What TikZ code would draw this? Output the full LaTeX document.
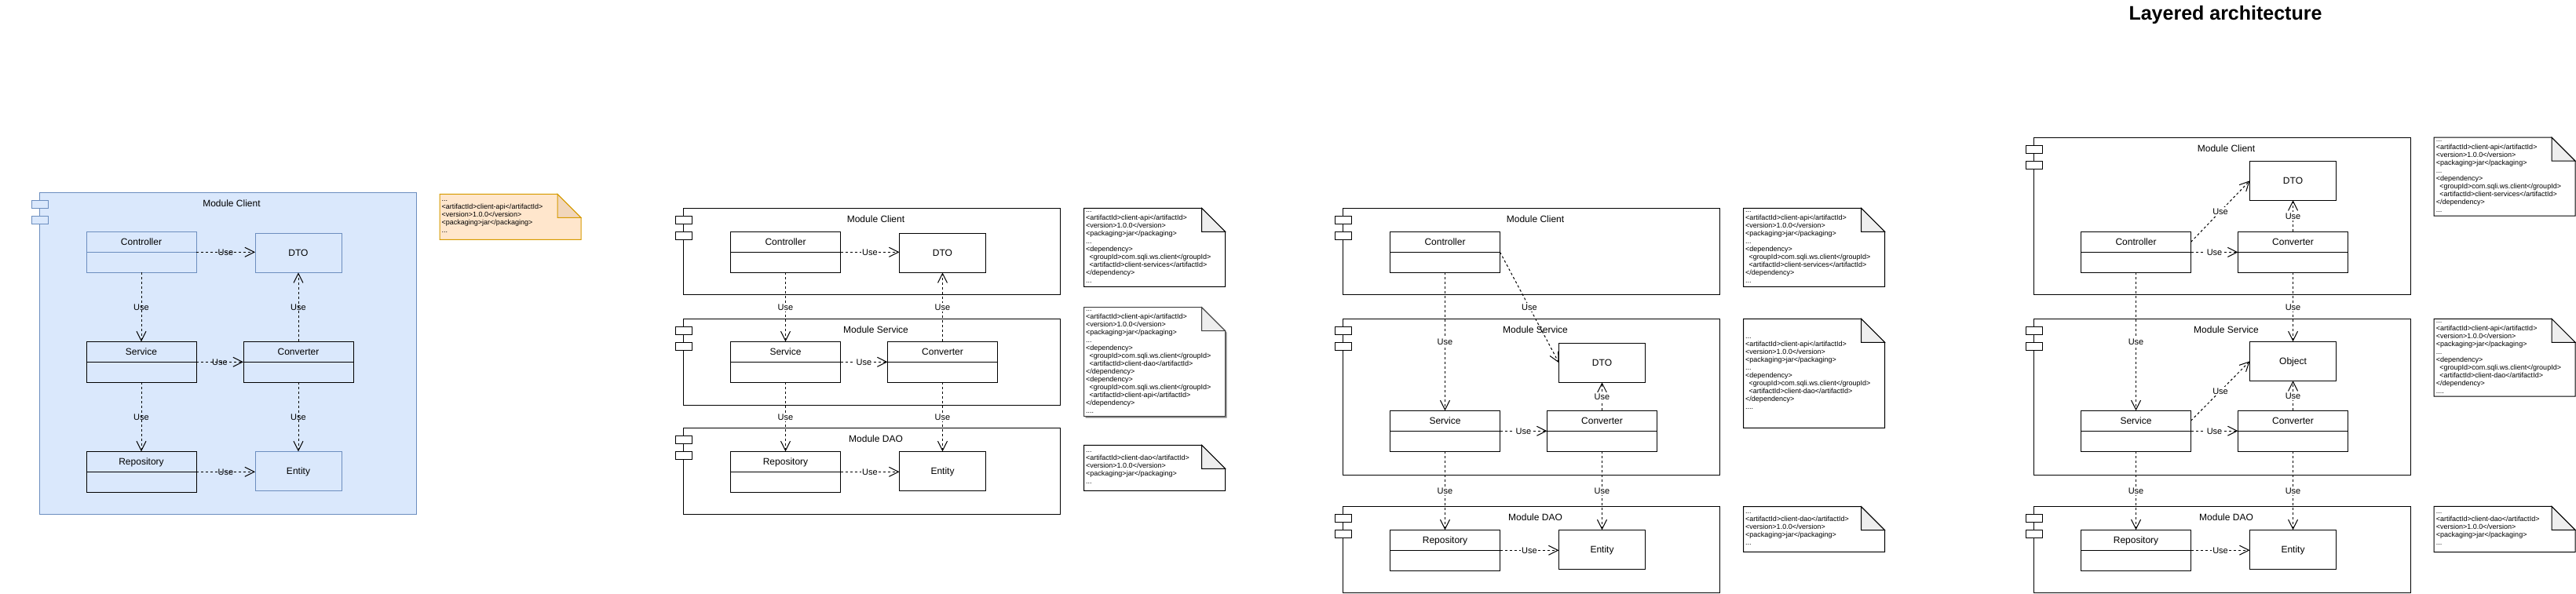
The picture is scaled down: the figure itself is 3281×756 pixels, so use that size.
\documentclass[tikz,border=0pt]{standalone}
\usepackage{fontspec}
\setmainfont{Liberation Sans}
\usetikzlibrary{arrows.meta}
\definecolor{bfill}{HTML}{DAE8FC}
\definecolor{bstroke}{HTML}{6C8EBF}
\definecolor{ofill}{HTML}{FFE6CC}
\definecolor{ostroke}{HTML}{D79B00}
\definecolor{ofold}{RGB}{241,214,187}
\definecolor{gfold}{RGB}{238,238,238}
\newcommand\ind{\hspace*{4.5pt}}
\newcommand\mymod[7]{%
 \node[modbox, draw=#6, fill=#7, minimum height=#4pt] (#1) at (#2,#3) {};
 \node[modtitle] (#1t) at ([xshift=5pt,yshift=-13.5pt]#1.north) {#5};
 \node[iconbox, draw=#6, fill=#7] (#1a) at ([xshift=-10pt,yshift=-10pt]#1.north west) {};
 \node[iconbox, draw=#6, fill=#7] (#1b) at ([xshift=-10pt,yshift=-30pt]#1.north west) {};
}
\newcommand\mycls[6]{%
 \node[clsbox, draw=#5, fill=#6] (#1) at (#2,#3) {};
 \node[clsname] (#1n) at ([yshift=13pt]#1.center) {#4};
 \draw[line width=1pt, draw=#5] (#1.west) -- (#1.east);
}
\newcommand\mynote[9]{%
 \draw[line width=1pt, draw=#6, fill=#7] (#2,#3) -- (#4-30,#3) -- (#4,#3+30) -- (#4,#5) -- (#2,#5) -- cycle;
 \draw[line width=1pt, draw=#6, fill=#8] (#4-30,#3) -- (#4-30,#3+30) -- (#4,#3+30) -- cycle;
 \node[notetext] (#1) at (#2+2.5,{(#3+#5)/2}) {#9};
}
\tikzset{
 modbox/.style={draw, line width=1pt, minimum width=480pt, inner sep=0pt, outer sep=0pt, anchor=north west},
 modtitle/.style={font=\fontsize{12}{14}\selectfont, text height=8.6pt, text depth=0pt, inner sep=0pt},
 iconbox/.style={draw, line width=1pt, minimum width=21pt, minimum height=10pt, inner sep=0pt, outer sep=0pt, anchor=north west},
 clsbox/.style={draw, line width=1pt, minimum width=140pt, minimum height=52pt, inner sep=0pt, outer sep=0pt},
 clsname/.style={font=\fontsize{12}{14}\selectfont, text height=8.6pt, text depth=0pt, inner sep=0pt},
 objbox/.style={draw, line width=1pt, minimum width=110pt, minimum height=50pt, inner sep=0pt, outer sep=0pt, font=\fontsize{12}{14}\selectfont, text height=8.6pt, text depth=0pt},
 dep/.style={line width=1pt, dash pattern=on 3pt off 3pt, -{Straight Barb[length=12pt,width=12pt]}},
 uselbl/.style={font=\fontsize{11}{13}\selectfont, text height=7.9pt, text depth=0pt, inner sep=1.5pt, fill=white},
 uselblclear/.style={font=\fontsize{11}{13}\selectfont, text height=7.9pt, text depth=0pt, inner sep=1.5pt},
 notetext/.style={font=\fontsize{9}{10}\selectfont, align=left, anchor=west, inner sep=0pt},
}
\begin{document}
\begin{tikzpicture}[x=1pt,y=-1pt]
\useasboundingbox (0,0) rectangle (3281,756);

\node[font=\bfseries\fontsize{25}{30}\selectfont, anchor=base, inner sep=0pt] (title) at (2834.5,25) {Layered architecture};

% ---------------- Panel 1 ----------------
\mymod{m1}{50}{245.3}{410}{Module Client}{bstroke}{bfill}
\mycls{p1ctrl}{180}{321.3}{Controller}{bstroke}{bfill}
\node[objbox, draw=bstroke, fill=bfill] (p1dto) at (380,322.3) {DTO};
\mycls{p1serv}{180}{461.3}{Service}{black}{bfill}
\mycls{p1conv}{380}{461.3}{Converter}{black}{bfill}
\mycls{p1repo}{180}{601.3}{Repository}{black}{bfill}
\node[objbox, draw=bstroke, fill=bfill] (p1ent) at (380,600.3) {Entity};
\draw[dep] (p1ctrl.east) -- (p1ctrl.east -| p1dto.west) node[midway, uselblclear] {Use};
\draw[dep] (p1ctrl.south) -- (p1serv.north) node[midway, uselblclear] {Use};
\draw[dep] (p1conv.north) -- (p1dto.south) node[midway, uselblclear] {Use};
\draw[dep] (p1serv.east) -- (p1conv.west) node[midway, uselblclear] {Use};
\draw[dep] (p1serv.south) -- (p1repo.north) node[midway, uselblclear] {Use};
\draw[dep] (p1conv.south) -- (p1ent.north) node[midway, uselblclear] {Use};
\draw[dep] (p1repo.east) -- (p1repo.east -| p1ent.west) node[midway, uselblclear] {Use};
\mynote{n1}{560}{247.3}{740}{305.3}{ostroke}{ofill}{ofold}{...\\<artifactId>client-api</artifactId>\\<version>1.0.0</version>\\<packaging>jar</packaging>\\...}

% ---------------- Panel 2 ----------------
\mymod{m2a}{870.5}{265.3}{110}{Module Client}{black}{white}
\mymod{m2b}{870.5}{406.3}{110}{Module Service}{black}{white}
\mymod{m2c}{870.5}{545.3}{110}{Module DAO}{black}{white}
\mycls{p2ctrl}{1000.5}{321.3}{Controller}{black}{white}
\node[objbox, fill=white] (p2dto) at (1200.5,322.3) {DTO};
\mycls{p2serv}{1000.5}{461.3}{Service}{black}{white}
\mycls{p2conv}{1200.5}{461.3}{Converter}{black}{white}
\mycls{p2repo}{1000.5}{601.3}{Repository}{black}{white}
\node[objbox, fill=white] (p2ent) at (1200.5,600.3) {Entity};
\draw[dep] (p2ctrl.east) -- (p2ctrl.east -| p2dto.west) node[midway, uselbl] {Use};
\draw[dep] (p2ctrl.south) -- (p2serv.north) node[midway, uselbl] {Use};
\draw[dep] (p2conv.north) -- (p2dto.south) node[midway, uselbl] {Use};
\draw[dep] (p2serv.east) -- (p2conv.west) node[midway, uselbl] {Use};
\draw[dep] (p2serv.south) -- (p2repo.north) node[midway, uselbl] {Use};
\draw[dep] (p2conv.south) -- (p2ent.north) node[midway, uselbl] {Use};
\draw[dep] (p2repo.east) -- (p2repo.east -| p2ent.west) node[midway, uselbl] {Use};
\mynote{n2a}{1380.5}{265.3}{1560.5}{365.3}{black}{white}{gfold}{...\\<artifactId>client-api</artifactId>\\<version>1.0.0</version>\\<packaging>jar</packaging>\\...\\<dependency>\\\ind<groupId>com.sqli.ws.client</groupId>\\\ind<artifactId>client-services</artifactId>\\</dependency>\\...}
\fill[black!45, xshift=2pt, yshift=-2pt] (1380.5,391.7) -- (1530.5,391.7) -- (1560.5,421.7) -- (1560.5,530.7) -- (1380.5,530.7) -- cycle;
\mynote{n2b}{1380.5}{391.7}{1560.5}{530.7}{black!75}{white}{gfold}{...\\<artifactId>client-api</artifactId>\\<version>1.0.0</version>\\<packaging>jar</packaging>\\...\\<dependency>\\\ind<groupId>com.sqli.ws.client</groupId>\\\ind<artifactId>client-dao</artifactId>\\</dependency>\\<dependency>\\\ind<groupId>com.sqli.ws.client</groupId>\\\ind<artifactId>client-api</artifactId>\\</dependency>\\....}
\mynote{n2c}{1380.5}{567.3}{1560.5}{625.3}{black}{white}{gfold}{...\\<artifactId>client-dao</artifactId>\\<version>1.0.0</version>\\<packaging>jar</packaging>\\...}

% ---------------- Panel 3 ----------------
\mymod{m3a}{1710.5}{265.3}{110}{Module Client}{black}{white}
\mymod{m3b}{1710.5}{406.3}{199}{Module Service}{black}{white}
\mymod{m3c}{1710.5}{645.7}{110}{Module DAO}{black}{white}
\mycls{p3ctrl}{1840.5}{321.3}{Controller}{black}{white}
\node[objbox, fill=white] (p3dto) at (2040.5,462.3) {DTO};
\mycls{p3serv}{1840.5}{549.3}{Service}{black}{white}
\mycls{p3conv}{2040.5}{549.3}{Converter}{black}{white}
\mycls{p3repo}{1840.5}{701.3}{Repository}{black}{white}
\node[objbox, fill=white] (p3ent) at (2040.5,700.3) {Entity};
\draw[dep] (p3ctrl.east) -- (p3dto.west) node[midway, uselbl] {Use};
\draw[dep] (p3ctrl.south) -- (p3serv.north) node[midway, uselbl] {Use};
\draw[dep] (p3conv.north) -- (p3dto.south) node[midway, uselbl] {Use};
\draw[dep] (p3serv.east) -- (p3conv.west) node[midway, uselbl] {Use};
\draw[dep] (p3serv.south) -- (p3repo.north) node[midway, uselbl] {Use};
\draw[dep] (p3conv.south) -- (p3ent.north) node[midway, uselbl] {Use};
\draw[dep] (p3repo.east) -- (p3repo.east -| p3ent.west) node[midway, uselbl] {Use};
\mynote{n3a}{2220.5}{265.3}{2400.5}{365.3}{black}{white}{gfold}{...\\<artifactId>client-api</artifactId>\\<version>1.0.0</version>\\<packaging>jar</packaging>\\...\\<dependency>\\\ind<groupId>com.sqli.ws.client</groupId>\\\ind<artifactId>client-services</artifactId>\\</dependency>\\...}
\mynote{n3b}{2220.5}{406.3}{2400.5}{545.3}{black}{white}{gfold}{...\\<artifactId>client-api</artifactId>\\<version>1.0.0</version>\\<packaging>jar</packaging>\\...\\<dependency>\\\ind<groupId>com.sqli.ws.client</groupId>\\\ind<artifactId>client-dao</artifactId>\\</dependency>\\....}
\mynote{n3c}{2220.5}{645.7}{2400.5}{703.3}{black}{white}{gfold}{...\\<artifactId>client-dao</artifactId>\\<version>1.0.0</version>\\<packaging>jar</packaging>\\...}

% ---------------- Panel 4 ----------------
\mymod{m4a}{2590.5}{175.2}{200}{Module Client}{black}{white}
\mymod{m4b}{2590.5}{406.3}{199}{Module Service}{black}{white}
\mymod{m4c}{2590.5}{645.4}{110}{Module DAO}{black}{white}
\node[objbox, fill=white] (p4dto) at (2920.5,230.3) {DTO};
\mycls{p4ctrl}{2720.5}{321.4}{Controller}{black}{white}
\mycls{p4conv}{2920.5}{321.4}{Converter}{black}{white}
\node[objbox, fill=white] (p4obj) at (2920.5,460.3) {Object};
\mycls{p4serv}{2720.5}{549.2}{Service}{black}{white}
\mycls{p4convb}{2920.5}{549.2}{Converter}{black}{white}
\mycls{p4repo}{2720.5}{701.2}{Repository}{black}{white}
\node[objbox, fill=white] (p4ent) at (2920.5,700.3) {Entity};
\draw[dep] ([yshift=13pt]p4ctrl.east) -- (p4dto.west) node[midway, uselbl] {Use};
\draw[dep] (p4conv.north) -- (p4dto.south) node[midway, uselbl] {Use};
\draw[dep] (p4ctrl.east) -- (p4conv.west) node[midway, uselbl] {Use};
\draw[dep] (p4ctrl.south) -- (p4serv.north) node[midway, uselbl] {Use};
\draw[dep] (p4conv.south) -- (p4obj.north) node[midway, uselbl] {Use};
\draw[dep] ([yshift=13pt]p4serv.east) -- (p4obj.west) node[midway, uselbl] {Use};
\draw[dep] (p4convb.north) -- (p4obj.south) node[midway, uselbl] {Use};
\draw[dep] (p4serv.east) -- (p4convb.west) node[midway, uselbl] {Use};
\draw[dep] (p4serv.south) -- (p4repo.north) node[midway, uselbl] {Use};
\draw[dep] (p4convb.south) -- (p4ent.north) node[midway, uselbl] {Use};
\draw[dep] (p4repo.east) -- (p4repo.east -| p4ent.west) node[midway, uselbl] {Use};
\mynote{n4a}{3100.2}{175.2}{3280}{275.2}{black}{white}{gfold}{...\\<artifactId>client-api</artifactId>\\<version>1.0.0</version>\\<packaging>jar</packaging>\\...\\<dependency>\\\ind<groupId>com.sqli.ws.client</groupId>\\\ind<artifactId>client-services</artifactId>\\</dependency>\\...}
\mynote{n4b}{3100.2}{406.3}{3280}{505.1}{black}{white}{gfold}{...\\<artifactId>client-api</artifactId>\\<version>1.0.0</version>\\<packaging>jar</packaging>\\...\\<dependency>\\\ind<groupId>com.sqli.ws.client</groupId>\\\ind<artifactId>client-dao</artifactId>\\</dependency>\\....}
\mynote{n4c}{3100.2}{645.4}{3280}{703.5}{black}{white}{gfold}{...\\<artifactId>client-dao</artifactId>\\<version>1.0.0</version>\\<packaging>jar</packaging>\\...}
\end{tikzpicture}
\end{document}
